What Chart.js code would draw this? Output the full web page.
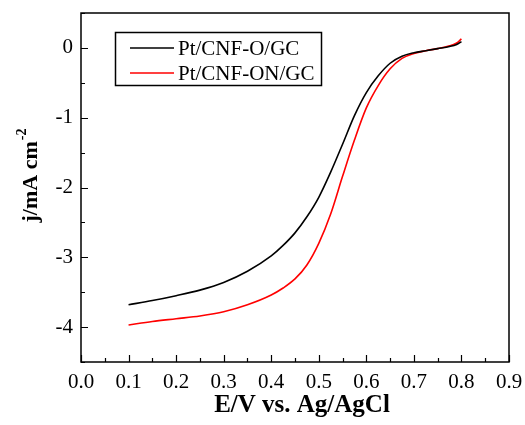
<!DOCTYPE html>
<html>
<head>
<meta charset="utf-8">
<script src="https://cdn.jsdelivr.net/npm/chart.js@4/dist/chart.umd.min.js"></script>
<style>
  html, body { margin: 0; padding: 0; background: #fff; }
  #wrap { width: 525px; height: 425px; }
</style>
</head>
<body>
<div id="wrap"><canvas id="c" width="525" height="425"></canvas></div>
<script>
// potential (V vs Ag/AgCl) and current density
const potential = [0.10, 0.15, 0.20, 0.25, 0.30, 0.35, 0.40, 0.425, 0.45, 0.475, 0.50,
                   0.525, 0.55, 0.575, 0.60, 0.625, 0.65, 0.675, 0.70, 0.725, 0.75, 0.775, 0.79, 0.80];
const jCnfO  = [-3.68, -3.62, -3.55, -3.47, -3.36, -3.20, -2.98, -2.83, -2.65, -2.42, -2.14,
                -1.78, -1.38, -0.97, -0.64, -0.40, -0.22, -0.12, -0.07, -0.04, -0.01, 0.02, 0.05, 0.09];
const jCnfON = [-3.97, -3.92, -3.88, -3.84, -3.78, -3.68, -3.54, -3.44, -3.31, -3.11, -2.80,
                -2.38, -1.84, -1.32, -0.86, -0.54, -0.30, -0.15, -0.08, -0.04, -0.01, 0.03, 0.07, 0.13];
const seriesNames = ["Pt/CNF-O/GC", "Pt/CNF-ON/GC"];
const seriesColors = ["#000000", "#ff0000"];
const xTicks = [0.0, 0.1, 0.2, 0.3, 0.4, 0.5, 0.6, 0.7, 0.8, 0.9];
const yTicks = [0, -1, -2, -3, -4];

const FONT = "'Liberation Serif', 'Times New Roman', serif";

function pts(ys) {
  return potential.map((x, i) => ({ x: x, y: ys[i] }));
}

// inward ticks, frame, axis titles and the boxed legend
const decor = {
  id: "decor",
  afterDraw(chart) {
    const ctx = chart.ctx;
    const a = chart.chartArea;
    const xs = chart.scales.x, ys = chart.scales.y;
    ctx.save();
    ctx.strokeStyle = "#000";
    ctx.lineWidth = 1.5;
    ctx.strokeRect(a.left, a.top, a.right - a.left, a.bottom - a.top);

    ctx.lineWidth = 1.2;
    ctx.beginPath();
    for (let v = 0; v <= 0.9001; v += 0.05) {
      const px = Math.round(xs.getPixelForValue(v)) + 0.5;
      const major = Math.abs(v * 10 - Math.round(v * 10)) < 1e-6;
      ctx.moveTo(px, a.bottom);
      ctx.lineTo(px, a.bottom - (major ? 7 : 4));
    }
    for (let v = -4.5; v <= 0.5001; v += 0.5) {
      const py = Math.round(ys.getPixelForValue(v)) + 0.5;
      const major = Math.abs(v - Math.round(v)) < 1e-6;
      ctx.moveTo(a.left, py);
      ctx.lineTo(a.left + (major ? 7 : 4), py);
    }
    ctx.stroke();

    // x title
    ctx.fillStyle = "#000";
    ctx.font = "bold 25px " + FONT;
    ctx.textAlign = "center";
    ctx.textBaseline = "alphabetic";
    ctx.fillText("E/V vs. Ag/AgCl", 302, 412);

    // y title with superscript
    ctx.save();
    ctx.translate(37, 176);
    ctx.rotate(-Math.PI / 2);
    const main = "j/mA cm";
    ctx.font = "bold 22px " + FONT;
    const w1 = ctx.measureText(main).width;
    ctx.font = "bold 14px " + FONT;
    const w2 = ctx.measureText("-2").width;
    const start = -(w1 + w2) / 2;
    ctx.textAlign = "left";
    ctx.font = "bold 22px " + FONT;
    ctx.fillText(main, start, 0);
    ctx.font = "bold 14px " + FONT;
    ctx.fillText("-2", start + w1 + 1, -11);
    ctx.restore();

    // legend
    ctx.lineWidth = 1.5;
    ctx.strokeRect(115.5, 32.5, 206, 53);
    ctx.font = "21px " + FONT;
    ctx.textAlign = "left";
    ctx.textBaseline = "middle";
    chart.data.datasets.forEach((ds, i) => {
      const y = 48 + i * 25;
      ctx.strokeStyle = ds.borderColor;
      ctx.lineWidth = 1.6;
      ctx.beginPath();
      ctx.moveTo(130, y);
      ctx.lineTo(174, y);
      ctx.stroke();
      ctx.fillStyle = "#000";
      ctx.fillText(ds.label, 178, y + 1);
    });
    ctx.restore();
  }
};

new Chart(document.getElementById("c"), {
  type: "line",
  data: {
    datasets: [
      { label: seriesNames[0], data: pts(jCnfO), borderColor: seriesColors[0], borderWidth: 1.6,
        pointRadius: 0, cubicInterpolationMode: "monotone", fill: false },
      { label: seriesNames[1], data: pts(jCnfON), borderColor: seriesColors[1], borderWidth: 1.6,
        pointRadius: 0, cubicInterpolationMode: "monotone", fill: false },
    ],
  },
  options: {
    responsive: false,
    animation: false,
    layout: { padding: { left: 0, top: 13, right: 16, bottom: 0 } },
    plugins: { legend: { display: false }, tooltip: { enabled: false } },
    scales: {
      x: {
        type: "linear", min: 0, max: 0.9,
        grid: { display: false, drawTicks: false },
        border: { display: false },
        afterFit: s => { s.height = 63; s.paddingLeft = 0; s.paddingRight = 0; },
        afterBuildTicks: s => { s.ticks = xTicks.map(v => ({ value: v })); },
        ticks: { color: "#000", padding: 8, font: { family: FONT, size: 21 },
                 callback: v => v.toFixed(1) },
      },
      y: {
        type: "linear", min: -4.5, max: 0.5,
        grid: { display: false, drawTicks: false },
        border: { display: false },
        afterFit: s => { s.width = 81; s.paddingTop = 0; s.paddingBottom = 0; },
        afterBuildTicks: s => { s.ticks = yTicks.map(v => ({ value: v })); },
        ticks: { color: "#000", padding: 8, font: { family: FONT, size: 21 },
                 callback: v => String(v) },
      },
    },
  },
  plugins: [decor],
});
</script>
</body>
</html>
